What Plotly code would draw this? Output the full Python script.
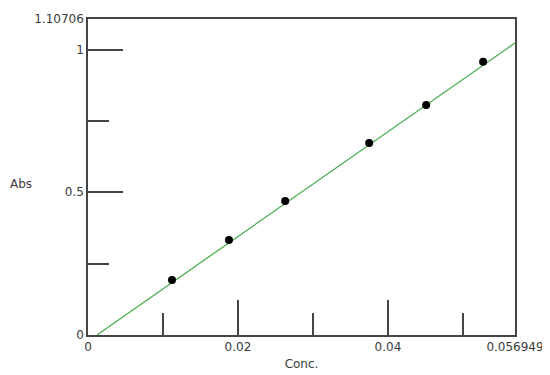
import plotly.graph_objects as go

# calibration points
conc = [0.0112, 0.0188, 0.0263, 0.0375, 0.0451, 0.0527]
absorb = [0.193, 0.333, 0.4695, 0.673, 0.806, 0.957]

# fitted line end points
fit_x = [0.0012, 0.056949]
fit_y = [0.0, 1.023]

x_max = 0.056949
y_max = 1.10706
x_ticks = [0, 0.02, 0.04, x_max]
x_ticktext = ["0", "0.02", "0.04", "0.056949"]
x_minor = [0.01, 0.03, 0.05]
y_ticks = [0, 0.5, 1, y_max]
y_ticktext = ["0", "0.5", "1", "1.10706"]
y_minor = [0.25, 0.75]

axcol = "#444444"
txtcol = "#3a3a3a"
font = dict(family="DejaVu Sans", size=12, color=txtcol)

fig = go.Figure()
fig.add_trace(go.Scatter(x=fit_x, y=fit_y, mode="lines",
                         line=dict(color="#4caf50", width=1.3),
                         showlegend=False))
fig.add_trace(go.Scatter(x=conc, y=absorb, mode="markers",
                         marker=dict(color="black", size=8),
                         showlegend=False))

fig.update_xaxes(range=[0, x_max], showgrid=False, zeroline=False,
                 showline=True, linecolor=axcol, linewidth=1.5, mirror=True,
                 ticks="inside", ticklen=35, tickwidth=1.5, tickcolor=axcol,
                 tickvals=x_ticks, ticktext=x_ticktext, tickfont=font,
                 minor=dict(tickvals=x_minor, ticks="inside", ticklen=22,
                            tickwidth=1.5, tickcolor=axcol, showgrid=False),
                 automargin=False,
                 title=dict(text="Conc.", standoff=6, font=font))
fig.update_yaxes(range=[0, y_max], showgrid=False, zeroline=False,
                 showline=True, linecolor=axcol, linewidth=1.5, mirror=True,
                 ticks="inside", ticklen=35, tickwidth=1.5, tickcolor=axcol,
                 tickvals=y_ticks, ticktext=y_ticktext, tickfont=font,
                 minor=dict(tickvals=y_minor, ticks="inside", ticklen=21,
                            tickwidth=1.5, tickcolor=axcol, showgrid=False),
                 automargin=False)

fig.add_annotation(text="Abs", xref="paper", yref="y", x=-0.188, y=0.53,
                   xanchor="left", showarrow=False, font=font)

# page body adds 8px offset, so margins are shifted to compensate
fig.update_layout(width=550, height=375, plot_bgcolor="white",
                  paper_bgcolor="white",
                  margin=dict(l=80, r=43, t=11, b=48))

fig.write_html("out.html")
